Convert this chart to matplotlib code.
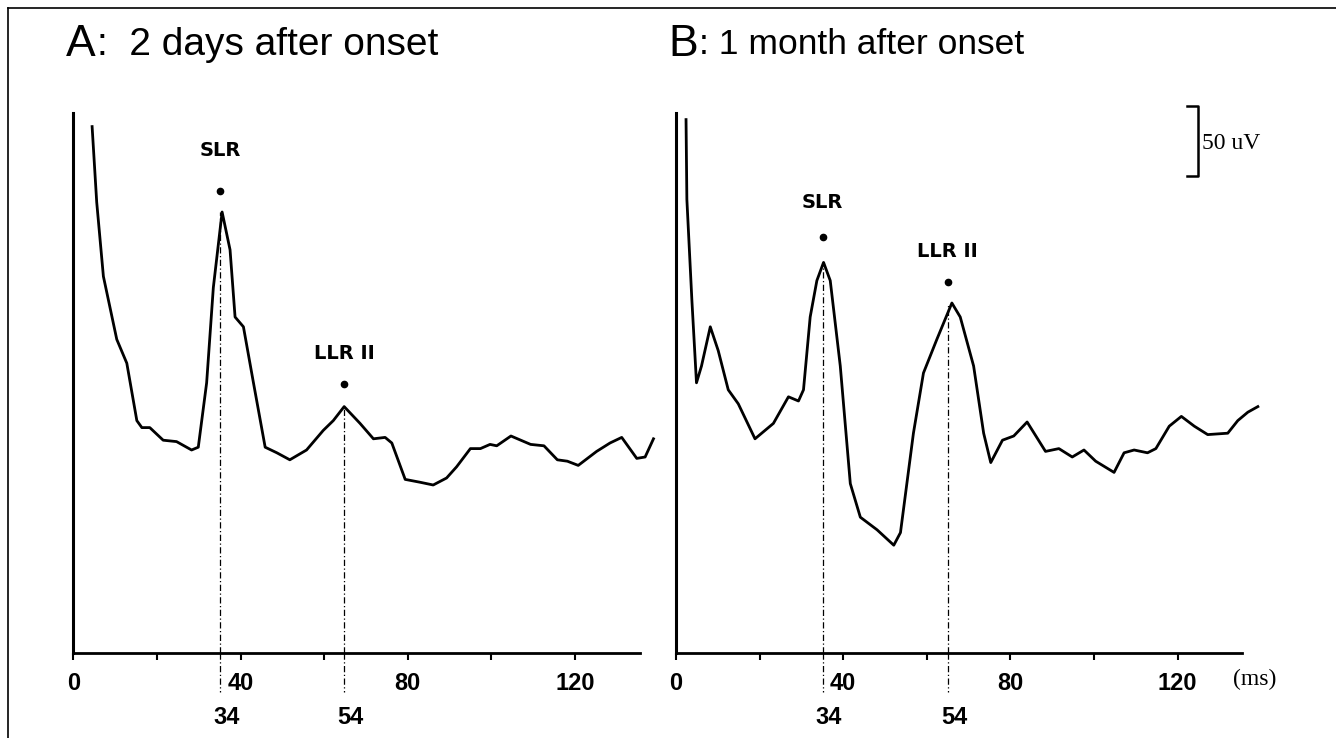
import numpy as np
import matplotlib
matplotlib.use("Agg")
import matplotlib.pyplot as plt
from matplotlib.lines import Line2D

# --- data (time in ms, amplitude in uV above baseline) ---
t_a = [4.5, 5.6, 7.2, 10.4, 12.8, 15.2, 16.4, 18.3, 21.5, 24.7, 28.3, 29.9, 31.9, 33.5,
       35.6, 37.5, 38.7, 40.7, 43.1, 45.9, 48.7, 51.8, 55.8, 59.8, 62.2, 64.8, 68.6,
       71.8, 74.6, 76.2, 79.4, 82.9, 86.1, 89.3, 91.7, 95.0, 97.4, 99.7, 101.3, 104.7,
       109.4, 112.6, 115.8, 118.2, 120.8, 125.2, 128.4, 131.2, 134.8, 136.8, 138.8]
v_a = [376, 322, 269, 224, 207, 166, 161, 161, 152, 151, 145, 147, 193, 261,
       315, 288, 240, 233, 193, 147, 143, 138, 145, 159, 166, 176, 164,
       153, 154, 150, 124, 122, 120, 125, 133, 146, 146, 149, 148, 155,
       149, 148, 138, 137, 134, 144, 150, 154, 139, 140, 153]

t_b = [2.4, 2.6, 3.8, 4.9, 6.1, 8.2, 10.1, 12.5, 14.9, 18.9, 23.3, 26.9, 29.3, 30.5,
       32.1, 33.7, 35.3, 36.9, 39.3, 41.7, 44.1, 48.1, 52.1, 53.7, 56.8, 59.2, 62.4,
       66.0, 68.0, 71.2, 73.6, 75.3, 78.1, 80.8, 84.0, 88.4, 91.6, 94.8, 97.6, 100.4,
       104.8, 107.2, 109.6, 112.8, 114.8, 118.0, 120.9, 124.0, 127.2, 132.0, 134.4,
       136.8, 139.2]
v_b = [381, 324, 252, 193, 205, 233, 216, 188, 178, 153, 164, 183, 180, 188,
       240, 266, 279, 266, 205, 121, 97, 88, 77, 86, 157, 200, 224,
       250, 240, 205, 157, 136, 152, 155, 165, 144, 146, 140, 145, 137,
       129, 143, 145, 143, 146, 162, 169, 162, 156, 157, 166,
       172, 176]

titles = ["A", "B"]
subtitles = [":  2 days after onset", ": 1 month after onset"]
peak_names = ["SLR", "LLR II"]
peak_x = {"A": [35.1, 64.8], "B": [35.1, 65.0]}
peak_top = {"A": [315, 176], "B": [279, 250]}
dot_y = {"A": [330, 192], "B": [297, 265]}
name_y = {"A": [359, 214], "B": [322, 287]}
peak_labels = ["34", "54"]
major_ticks = [0, 40, 80, 120]
minor_ticks = [20, 60, 100]

W, H = 1336, 738
fig = plt.figure(figsize=(W / 100, H / 100), dpi=100)

# frame around the whole figure (left and top edges visible)
fig.add_artist(Line2D([8 / W, 8 / W], [0, 1 - 8 / H], color="black", lw=1.2))
fig.add_artist(Line2D([8 / W, 1], [1 - 8 / H, 1 - 8 / H], color="black", lw=1.2))

px_per_ms = 4.18
px_per_uv = 1.4
base_py = 653
top_py = 100
x_right_px = 600


def make_axes(x0_px):
    left = x0_px / W
    width = x_right_px / W
    bottom = (H - base_py) / H
    height = (base_py - top_py) / H
    ax = fig.add_axes([left, bottom, width, height])
    ax.set_xlim(0, x_right_px / px_per_ms)
    ax.set_ylim(0, (base_py - top_py) / px_per_uv)
    ax.patch.set_alpha(0)
    for s in ["top", "right"]:
        ax.spines[s].set_visible(False)
    ax.spines["left"].set_linewidth(2.2)
    ax.spines["bottom"].set_linewidth(2.0)
    ax.spines["left"].set_bounds(0, 386)
    ax.spines["bottom"].set_bounds(0, 135.5)
    ax.set_yticks([])
    ax.set_xticks(major_ticks)
    ax.set_xticks(minor_ticks, minor=True)
    ax.tick_params(axis="x", which="both", direction="out", length=5, width=1.5, pad=9)
    ax.set_xticklabels([str(t) for t in major_ticks],
                       fontdict=dict(family=["Liberation Sans Narrow", "Liberation Sans"],
                                     weight="bold", size=17))
    return ax


title_sizes = [28, 25.5]
panels = [("A", 73.3, t_a, v_a), ("B", 676, t_b, v_b)]
for key, x0, t, v in panels:
    ax = make_axes(x0)
    ax.plot(t, v, color="black", lw=2.0, solid_joinstyle="round", clip_on=False)
    for i in range(2):
        px = peak_x[key][i]
        ax.plot([px, px], [0, peak_top[key][i]], color="black", lw=0.9,
                linestyle=(0, (5, 2, 1, 2)))
        ax.plot([px, px], [0, -28], color="black", lw=0.9,
                linestyle=(0, (5, 2, 1, 2)), clip_on=False)
        ax.plot(px, dot_y[key][i], "o", color="black", ms=4.5)
        ax.text(px, name_y[key][i], peak_names[i], ha="center", va="center",
                fontsize=14, weight="bold", family="DejaVu Sans")
        ax.text(px + 1.5, -46, peak_labels[i], ha="center", va="center",
                fontsize=17, weight="bold", clip_on=False,
                family=["Liberation Sans Narrow", "Liberation Sans"])

    # panel title
    idx = 0 if key == "A" else 1
    tx = (66 if key == "A" else 668) / W
    t1 = fig.text(tx, 1 - 45 / H, titles[idx], fontsize=32, va="center", ha="left",
                  family="Liberation Sans")
    fig.canvas.draw()
    bb = t1.get_window_extent()
    fig.text(bb.x1 / W + 0.001, 1 - 45 / H, subtitles[idx], fontsize=title_sizes[idx],
             va="center", ha="left", family="Liberation Sans")

    if key == "B":
        ax.text(138.5, -19, "(ms)", ha="center", va="center", fontsize=17,
                family="Liberation Serif", clip_on=False)
        # 50 uV calibration bracket
        xb = 124.9
        ax.plot([xb - 2.6, xb, xb, xb - 2.6], [391, 391, 341, 341], color="black",
                lw=1.8, clip_on=False)
        ax.text(xb + 1.0, 364, "50 uV", ha="left", va="center", fontsize=17,
                family="Liberation Serif", clip_on=False)

fig.savefig("out.png", dpi=100)
